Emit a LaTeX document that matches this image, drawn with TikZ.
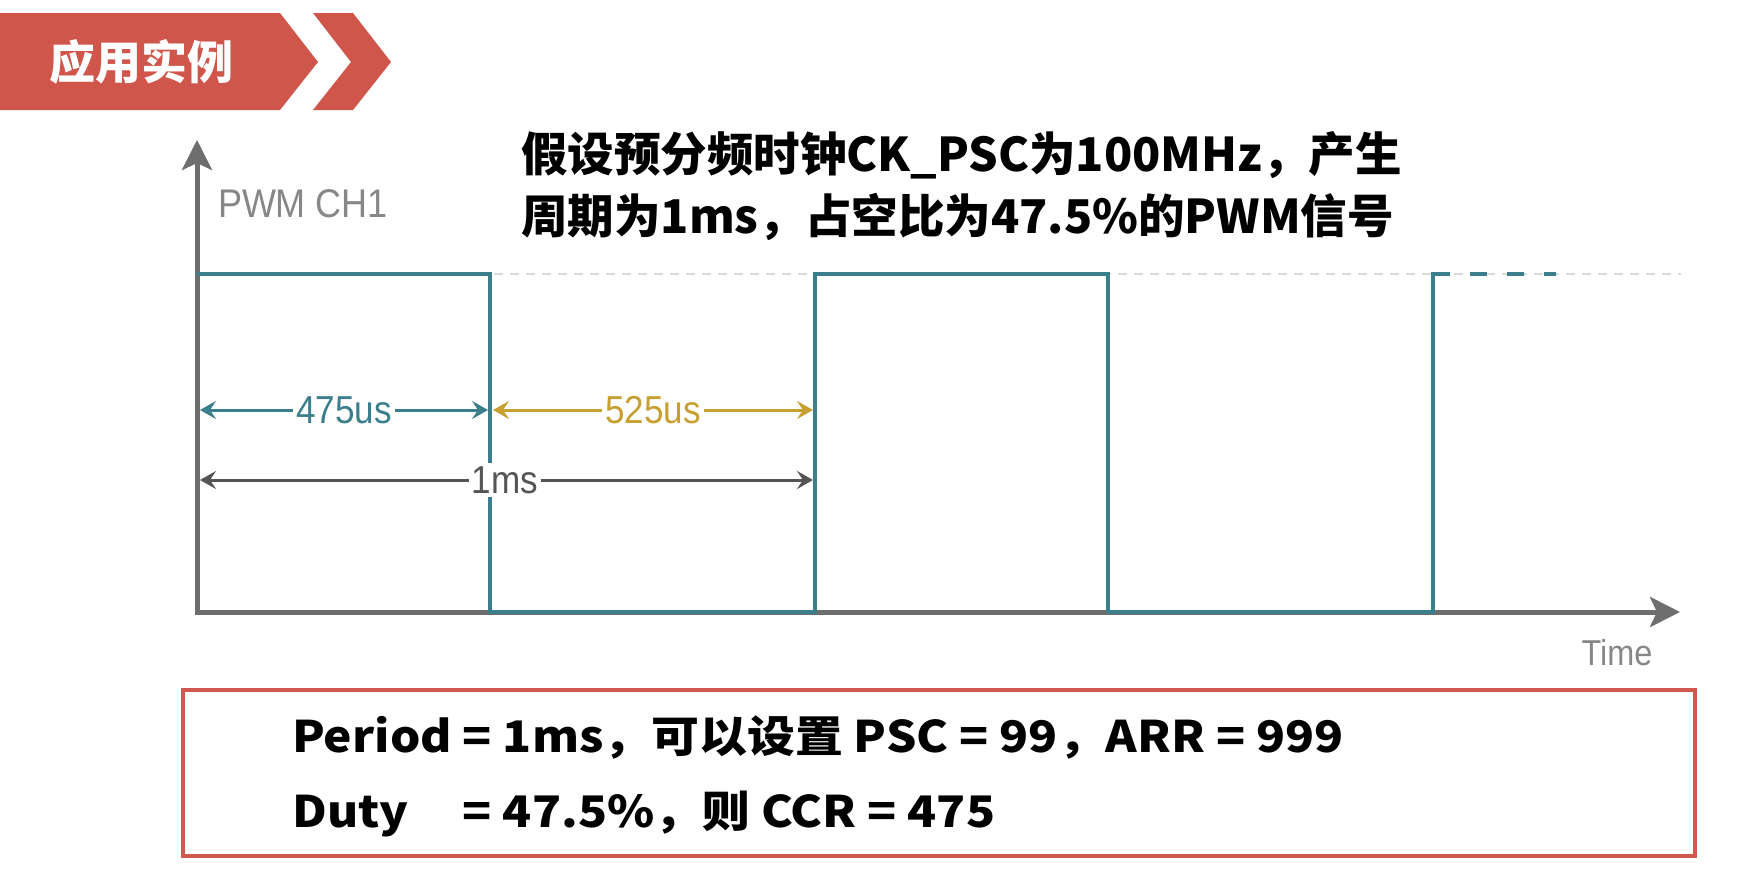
\documentclass[tikz,border=0pt]{standalone}
\usepackage{fontspec}
\setmainfont{Liberation Sans}
\newfontfamily\lblfont{Liberation Sans}[FakeStretch=0.9]
\newfontfamily\cjk{Noto Sans CJK SC}
\newfontfamily\cjkwide{Noto Sans CJK SC}[FakeStretch=1.1]
\usetikzlibrary{arrows.meta}
\definecolor{bannerred}{RGB}{208,86,76}
\definecolor{boxred}{RGB}{208,88,78}
\definecolor{wteal}{RGB}{60,127,140}
\definecolor{wgold}{RGB}{200,160,50}
\definecolor{axgray}{RGB}{110,110,110}
\definecolor{dimgray}{RGB}{85,85,85}
\definecolor{lblgray}{RGB}{135,135,135}
\definecolor{refgray}{RGB}{218,218,218}
\tikzset{
  axisline/.style={axgray, line width=5pt, -{Stealth[length=30pt,width=30pt,inset=7pt]}},
  waveline/.style={wteal, line width=4.5pt, line join=miter},
  dimline/.style={line width=3pt, {Stealth[length=16pt,width=18pt,inset=6pt]}-{Stealth[length=16pt,width=18pt,inset=6pt]}},
  dimlabel/.style={fill=white, inner sep=3pt, font=\lblfont\fontsize{39}{42}\selectfont},
  axlabel/.style={text=lblgray, font=\lblfont\fontsize{40}{44}\selectfont, inner sep=0pt},
  boldcjk/.style={font=\cjk\bfseries\fontsize{46.5}{62}\selectfont, inner sep=0pt},
  boxtext/.style={font=\cjkwide\bfseries\fontsize{43.5}{50}\selectfont, inner sep=0pt, anchor=west}
}
\begin{document}
\begin{tikzpicture}[x=1pt,y=-1pt]
\useasboundingbox (0,0) rectangle (1748,878);
\fill[white] (0,0) rectangle (1748,878);

% header banner
\fill[bannerred] (0,13) -- (280,13) -- (318,62) -- (280,110) -- (0,110) -- cycle;
\fill[bannerred] (313,13) -- (353,13) -- (391,62) -- (353,110) -- (313,110) -- (351,62) -- cycle;
\node[boldcjk, text=white, font=\cjk\bfseries\fontsize{46}{50}\selectfont] (hdr) at (141,62) {应用实例};

% title
\node[boldcjk, anchor=north west, align=left] (title) at (521,131)
  {假设预分频时钟CK\_PSC为100MHz，产生\\周期为1ms，占空比为47.5\%的PWM信号};

% coordinates
\coordinate (O) at (197,612);
\coordinate (ytip) at (197,140);
\coordinate (xtip) at (1680,612);

% reference dashed level
\coordinate (r1) at (494,274);
\coordinate (r2) at (1681,274);
\draw[refgray, line width=2pt, dash pattern=on 9pt off 7pt] (r1) -- (r2);

% axes
\draw[axisline] ([xshift=-2pt]O) -- (xtip);
\draw[axisline] ([yshift=2pt]O) -- (ytip);

% waveform
\coordinate (h0) at (197,274);
\coordinate (f1t) at (490,274);
\coordinate (f1b) at (490,612);
\coordinate (r2b) at (815,612);
\coordinate (r2t) at (815,274);
\coordinate (f2t) at (1108,274);
\coordinate (f2b) at (1108,612);
\coordinate (r3b) at (1433,612);
\coordinate (r3t) at (1433,274);
\coordinate (d0) at (1450,274);
\coordinate (d1) at (1470,274);
\coordinate (d2) at (1556,274);
\draw[waveline] (h0) -- (f1t) -- (f1b) -- (r2b) -- (r2t) -- (f2t) -- (f2b) -- (r3b) -- (r3t) -- (d0);
\draw[waveline, dash pattern=on 17pt off 20pt] (d1) -- (d2);

% axis labels
\node[axlabel] (pwm) at (303,204) {PWM CH1};
\node[axlabel, font=\lblfont\fontsize{36}{40}\selectfont] (time) at (1617,653) {Time};

% dimension arrows
\coordinate (a1) at (200,410);
\coordinate (a2) at (488,410);
\coordinate (b1) at (493,410);
\coordinate (b2) at (813,410);
\coordinate (c1) at (200,480);
\coordinate (c2) at (813,480);
\draw[dimline, wteal] (a1) -- node[dimlabel, text=wteal] (l475) {475us} (a2);
\draw[dimline, wgold] (b1) -- node[dimlabel, text=wgold] (l525) {525us} (b2);
\draw[dimline, dimgray] (c1) -- node[dimlabel, text=dimgray, pos=0.497] (l1ms) {1ms} (c2);

% bottom box
\node[draw=boxred, line width=4pt, minimum width=1512pt, minimum height=166pt, inner sep=0pt] (box) at (939,773) {};
\node[boxtext] (line1) at (292,737)
  {Period = 1ms，可以设置 PSC = 99，ARR = 999};
\node[boxtext] (line2) at (292,814)
  {\rlap{Duty}\hphantom{Period }= 47.5\%，则 CCR = 475};
\end{tikzpicture}
\end{document}
